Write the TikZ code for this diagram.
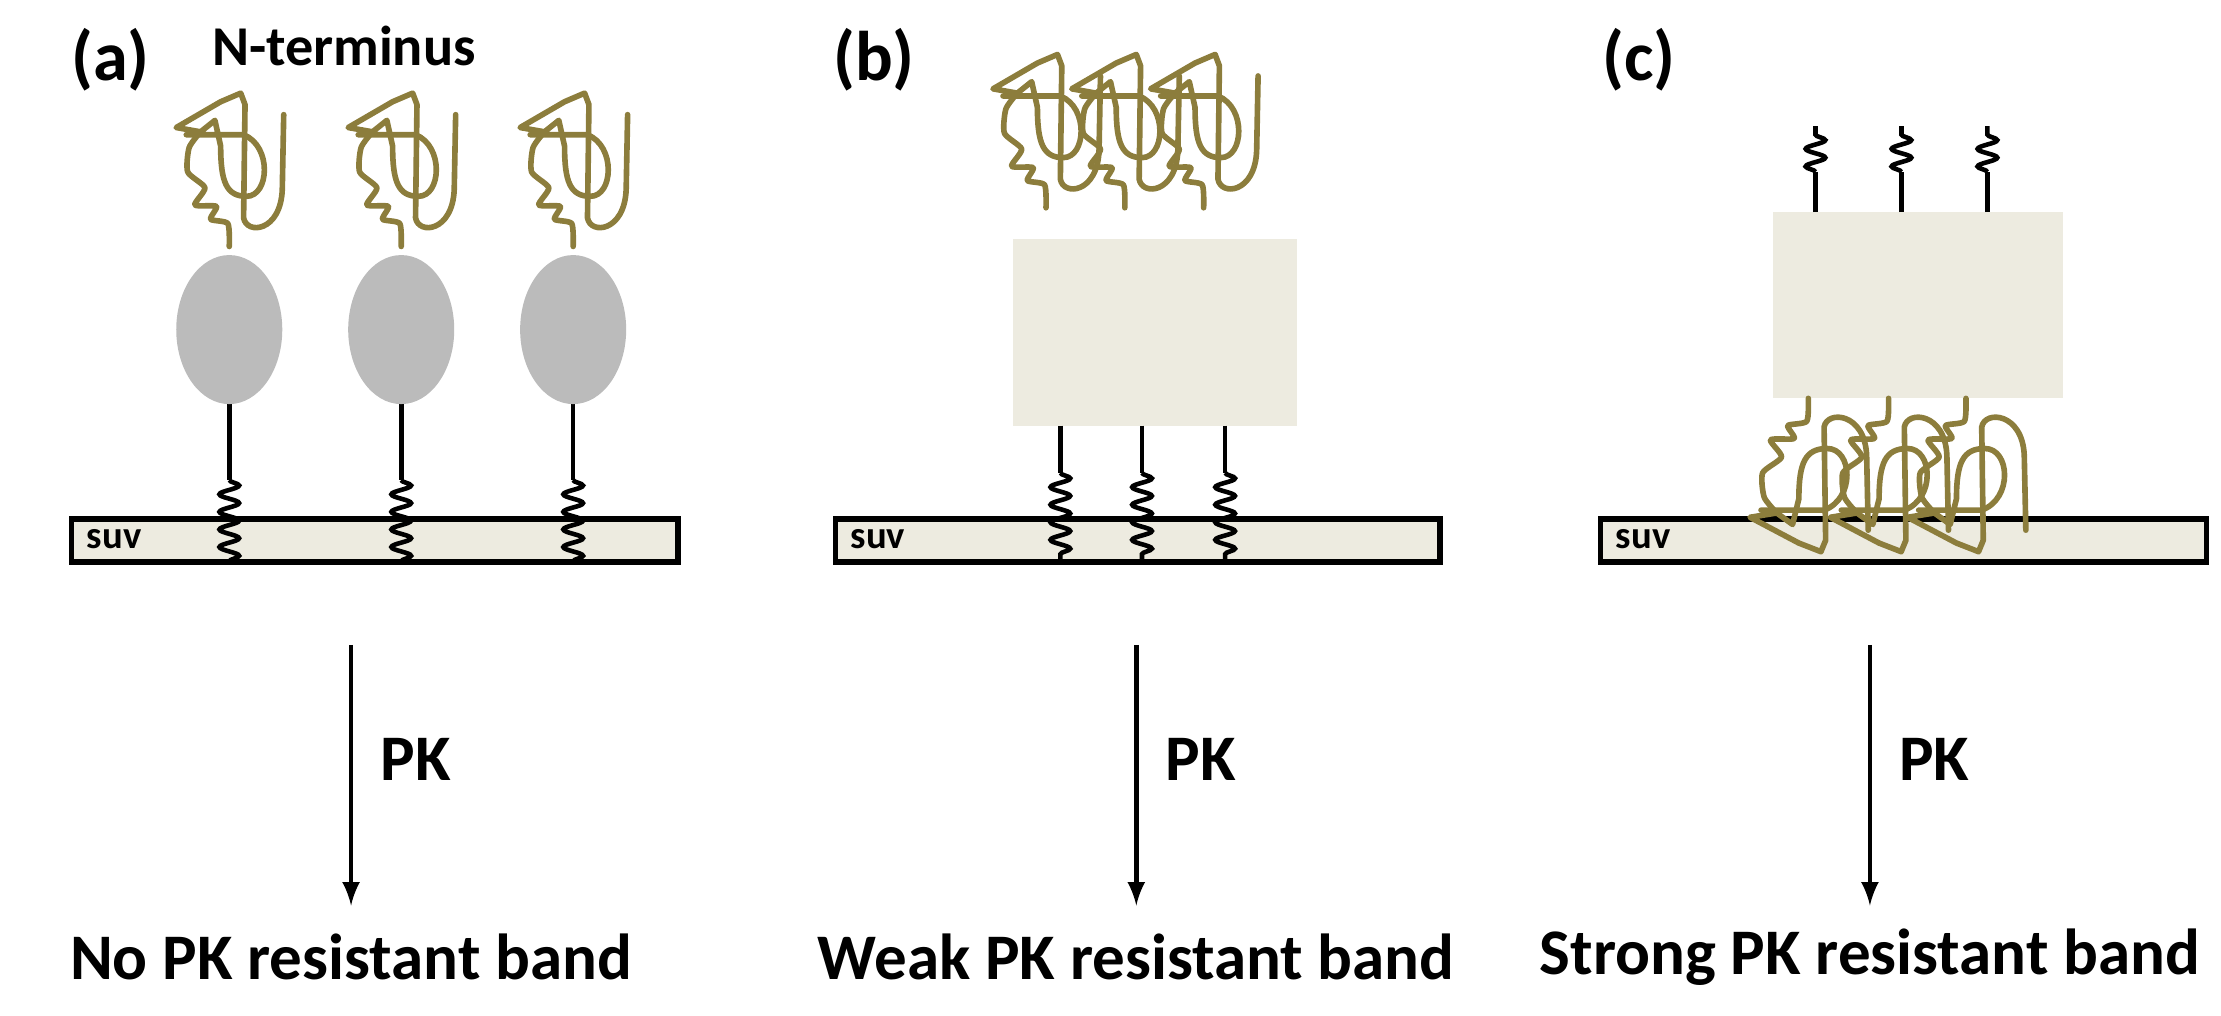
\documentclass[tikz,border=0pt]{standalone}
\usepackage{fontspec}
\setmainfont{Carlito}
\usetikzlibrary{arrows,shapes,decorations.pathmorphing}
\definecolor{olive}{HTML}{8C7D3C}
\definecolor{beige}{HTML}{EDEBE0}
\definecolor{blob}{HTML}{BBBBBB}
\tikzset{
  strand/.style={olive, line width=1.6pt, line join=round, line cap=round},
  coil/.style={decorate, decoration={snake, amplitude=2.8pt, segment length=5pt}},
  stem/.style={black, line width=1.3pt},
  label/.style={font=\bfseries\fontsize{18.5}{21}\selectfont},
  tangle/.pic={
    \draw[strand] plot[smooth, tension=0.4] coordinates {(0,0) (-1,-16) (-13,-19) (-9,-28) (-24,-29) (-17,-41) (-29,-52) (-28,-69) (-20,-80)}
      -- (-37,-83) -- (-6,-101) -- (8,-107) -- (11,-99) -- (10,-20)
      .. controls (12,-8) and (36,-10) .. (37,-40) -- (38,-92);
    \draw[strand] (-30,-78) -- (10,-78) .. controls (30,-70) and (28,-35) .. (12,-35)
      .. controls (-2,-35) and (-6,-45) .. (-6,-70) -- (-10,-88) -- (-20,-80);
  }
}
\begin{document}
\begin{tikzpicture}[x=0.01433cm, y=-0.01433cm]
\useasboundingbox (0,0) rectangle (1550,709);
% panel (a)
\node[label, font=\bfseries\fontsize{20}{22}\selectfont] (la) at (77,42) {(a)};
\node[label, font=\bfseries\fontsize{16}{18}\selectfont] (nterm) at (240,32) {N-terminus};
\fill[beige] (51,363) rectangle (472,391);
\draw[stem, line width=1.6pt] (50,362) rectangle (473,392);
\node[font=\bfseries\fontsize{11}{12}\selectfont, anchor=west] (suva) at (52,376) {suv};
\foreach \x in {160,280,400} {
  \draw[stem] (\x,280) -- (\x,335);
  \draw[stem, coil] (\x,335) -- (\x,392);
  \fill[blob] (\x,230) ellipse (37 and 52);
  \pic at (\x,172) {tangle};
}
% panel (b)
\node[label, font=\bfseries\fontsize{20}{22}\selectfont] (lb) at (610,42) {(b)};
\fill[beige] (584,363) rectangle (1004,391);
\draw[stem, line width=1.6pt] (583,362) rectangle (1005,392);
\node[font=\bfseries\fontsize{11}{12}\selectfont, anchor=west] (suvb) at (585,376) {suv};
\fill[beige] (707,167) rectangle (905,297);
\foreach \x in {740,797,855} {
  \draw[stem] (\x,297) -- (\x,330);
  \draw[stem, coil] (\x,330) -- (\x,392);
}
\foreach \x in {730,785,840} \pic at (\x,145) {tangle};
% panel (c)
\node[label, font=\bfseries\fontsize{20}{22}\selectfont] (lc) at (1144,42) {(c)};
\fill[beige] (1118,363) rectangle (1539,391);
\draw[stem, line width=1.6pt] (1117,362) rectangle (1540,392);
\node[font=\bfseries\fontsize{11}{12}\selectfont, anchor=west] (suvc) at (1119,376) {suv};
\fill[beige] (1237,148) rectangle (1440,278);
\foreach \x in {1267,1327,1387} {
  \draw[stem] (\x,148) -- (\x,120);
  \draw[stem, coil] (\x,120) -- (\x,88);
}
\foreach \x in {1262,1318,1372} \pic[yscale=-1, xscale=1.1] at (\x,278) {tangle};
% arrows and results
\foreach \p/\x/\t in {a/245/No PK resistant band, b/793/Weak PK resistant band, c/1305/Strong PK resistant band} {
  \coordinate (top\p) at (\x,450);
  \coordinate (tip\p) at (\x,632);
  \node[label] (res\p) at (\x,668) {\t};
  \node[label] (pk\p) at (\x+45,530) {PK};
  \draw[-latex, line width=1.3pt] (top\p) -- (tip\p);
}
\end{tikzpicture}
\end{document}
